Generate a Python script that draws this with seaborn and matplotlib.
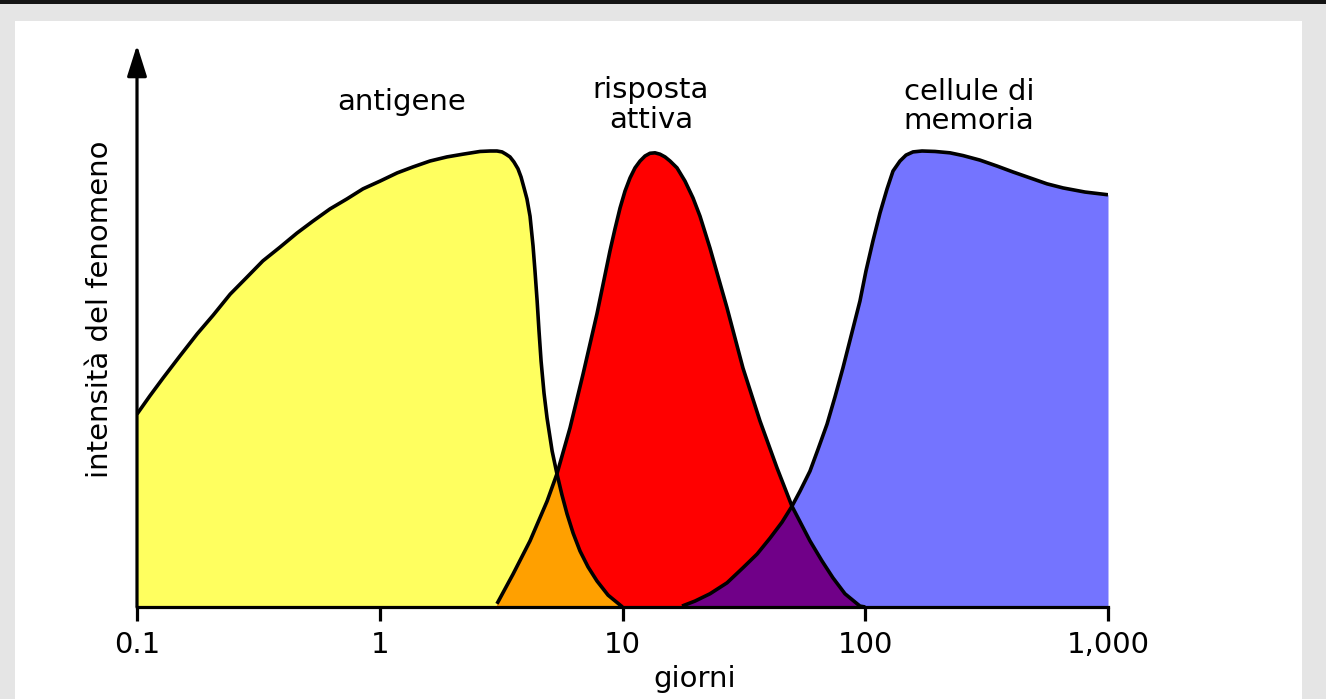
import numpy as np
import pandas as pd
import matplotlib
matplotlib.use("Agg")
import matplotlib.pyplot as plt
from matplotlib.patches import Rectangle
import seaborn as sns

# ---------------- data ----------------
# x in days (log scale), y = relative intensity (0..100)
antigene_x = [0.100, 0.113, 0.128, 0.150, 0.177, 0.206, 0.242, 0.281, 0.330, 0.388,
              0.456, 0.530, 0.624, 0.733, 0.853, 1.003, 1.18, 1.37, 1.61, 1.89,
              2.20, 2.59, 2.85, 3.04, 3.19, 3.31, 3.44, 3.57, 3.71, 3.82,
              3.93, 4.04, 4.16, 4.28, 4.36, 4.45, 4.53, 4.62, 4.75, 4.89,
              5.13, 5.37, 5.63, 5.91, 6.26, 6.68, 7.21, 7.85, 8.72, 10.0]
antigene_y = [42.3, 46.3, 50.2, 55.0, 59.9, 64.0, 68.6, 72.1, 75.9, 78.9,
              82.0, 84.6, 87.3, 89.5, 91.7, 93.4, 95.2, 96.5, 97.8, 98.7,
              99.3, 99.9, 100.0, 100.0, 99.8, 99.3, 98.7, 97.6, 96.1, 94.3,
              91.9, 89.5, 85.7, 79.2, 73.7, 67.1, 60.5, 53.9, 46.9, 41.4,
              34.2, 29.2, 24.6, 20.4, 16.2, 12.3, 8.8, 5.7, 2.6, 0.0]

risposta_x = [3.04, 3.54, 4.16, 4.89, 5.37, 6.08, 6.88, 7.85, 8.88, 9.31,
              9.77, 10.24, 10.74, 11.26, 11.81, 12.38, 12.98, 13.61, 14.27, 14.97,
              15.70, 16.77, 18.09, 19.52, 20.86, 22.93, 26.95, 31.35, 36.84, 43.30,
              49.90, 59.2, 66.34, 73.6, 82.5, 95.1, 100.0]
risposta_y = [0.7, 7.2, 14.5, 23.2, 29.2, 39.3, 51.1, 64.3, 78.1, 82.9,
              87.5, 91.2, 94.1, 96.3, 97.8, 98.9, 99.5, 99.6, 99.3, 98.7,
              97.8, 96.3, 93.4, 89.7, 85.7, 78.7, 65.6, 52.4, 40.8, 30.5,
              22.1, 14.5, 10.1, 6.4, 2.9, 0.2, 0.0]

memoria_x = [17.59, 19.89, 22.93, 26.95, 31.35, 35.83, 40.52, 45.41, 49.90, 53.85,
             59.2, 63.90, 69.6, 75.07, 80.9, 87.39, 95.1, 100.7, 107.6, 115.0,
             123.0, 130.1, 139.0, 147.2, 157.3, 171.3, 193.8, 223.4, 252.7, 296.9,
             349.0, 406.1, 477.4, 560.7, 652.9, 803.9, 1000.0]
memoria_y = [0.2, 1.3, 2.9, 5.3, 8.6, 11.6, 15.1, 18.6, 22.1, 25.4,
             29.8, 34.6, 40.1, 46.1, 52.4, 59.4, 67.1, 73.7, 80.3, 86.4,
             91.7, 95.6, 97.8, 99.1, 99.8, 100.0, 99.9, 99.6, 99.0, 98.0,
             96.7, 95.4, 94.1, 92.8, 91.9, 91.0, 90.4]

tick_values = [0.1, 1, 10, 100, 1000]
tick_labels = ["0.1", "1", "10", "100", "1,000"]
curve_labels = ["antigene", "risposta attiva", "cellule di memoria"]

# ---------------- style ----------------
sns.set_theme(style="white")
plt.rcParams["font.family"] = ["DejaVu Sans"]

W, H = 1326, 699
fig = plt.figure(figsize=(W / 100, H / 100), dpi=100)
fig.patch.set_facecolor("#e5e5e5")
# white panel and dark top rule
fig.patches.append(Rectangle((15 / W, 0), (1302 - 15) / W, (H - 21) / H,
                             transform=fig.transFigure, facecolor="white",
                             edgecolor="none", zorder=-10))
fig.patches.append(Rectangle((0, 1 - 3.5 / H), 1, 3.5 / H,
                             transform=fig.transFigure, facecolor="#151515",
                             edgecolor="none", zorder=-9))

x0, x1, ybase, ytop = 137, 1108, 607, 45
ax = fig.add_axes([x0 / W, (H - ybase) / H, (x1 - x0) / W, (ybase - ytop) / H])
ax.patch.set_alpha(0)
ax.set_xscale("log")
ax.set_xlim(0.1, 1000)
ax.set_ylim(0, (ybase - ytop) / 4.56)

c_yellow = "#ffff5f"
c_red = "#ff0000"
c_blue = "#7474ff"
c_orange = "#ffa000"
c_purple = "#700088"

# base fills
ax.fill_between(antigene_x, antigene_y, color=c_yellow, lw=0, zorder=1)
ax.fill_between(risposta_x, risposta_y, color=c_red, lw=0, zorder=1)
ax.fill_between(memoria_x, memoria_y, color=c_blue, lw=0, zorder=1)

# overlap fills (min of two curves, evaluated in log-x)
def on_grid(xs, ys, grid):
    lg = np.log10(grid)
    lx = np.log10(xs)
    v = np.interp(lg, lx, ys)
    v[(lg < lx[0]) | (lg > lx[-1])] = 0
    return v

g1 = np.geomspace(risposta_x[0], antigene_x[-1], 600)
ov1 = np.minimum(on_grid(antigene_x, antigene_y, g1), on_grid(risposta_x, risposta_y, g1))
ax.fill_between(g1, ov1, color=c_orange, lw=0, zorder=2)

g2 = np.geomspace(memoria_x[0], risposta_x[-1], 600)
ov2 = np.minimum(on_grid(risposta_x, risposta_y, g2), on_grid(memoria_x, memoria_y, g2))
ax.fill_between(g2, ov2, color=c_purple, lw=0, zorder=2)

# outlines via seaborn
df = pd.concat([
    pd.DataFrame({"giorni": antigene_x, "intensita": antigene_y, "curva": curve_labels[0]}),
    pd.DataFrame({"giorni": risposta_x, "intensita": risposta_y, "curva": curve_labels[1]}),
    pd.DataFrame({"giorni": memoria_x, "intensita": memoria_y, "curva": curve_labels[2]}),
])
sns.lineplot(data=df, x="giorni", y="intensita", units="curva", estimator=None,
             color="black", linewidth=2.6, sort=False, legend=False, ax=ax, zorder=4)
for ln in ax.lines:
    ln.set_solid_joinstyle("round")
    ln.set_solid_capstyle("butt")

# axes styling
for s in ["top", "right", "left"]:
    ax.spines[s].set_visible(False)
ax.spines["bottom"].set_linewidth(2.3)
ax.spines["bottom"].set_color("black")
ax.spines["bottom"].set_zorder(5)
ax.set_xticks(tick_values)
ax.set_xticklabels(tick_labels)
ax.xaxis.set_minor_locator(matplotlib.ticker.NullLocator())
ax.tick_params(axis="x", which="major", direction="out", length=10, width=2.3,
               color="black", labelsize=21, labelcolor="black", pad=7, bottom=True)
ax.set_yticks([])
ax.grid(False)

# y axis arrow
ax.annotate("", xy=(0, 1), xycoords="axes fraction", xytext=(0, 0),
            textcoords="axes fraction",
            arrowprops=dict(arrowstyle="-|>,head_length=0.95,head_width=0.3",
                            mutation_scale=20, lw=2.3, color="black",
                            shrinkA=0, shrinkB=0), zorder=6, annotation_clip=False)

# axis labels
ax.set_xlabel("giorni", fontsize=21, color="black")
ax.xaxis.label.set_va("baseline")
ax.xaxis.label.set_ha("center")
ax.xaxis.set_label_coords((695 - x0) / (x1 - x0), (ybase - 687) / (ybase - ytop))
ax.set_ylabel("intensità del fenomeno", fontsize=21, color="black")
ax.yaxis.label.set_va("center")
ax.yaxis.label.set_ha("center")
ax.yaxis.set_label_coords((100 - x0) / (x1 - x0), (ybase - 309) / (ybase - ytop))

# curve annotations
def ftext(px, py, s):
    fig.text(px / W, 1 - py / H, s, ha="center", va="baseline", fontsize=21, color="black")

ftext(402, 110, "antigene")
ftext(651, 98, "risposta")
ftext(651, 128, "attiva")
ftext(969, 100, "cellule di")
ftext(969, 129, "memoria")

fig.savefig("out.png", dpi=100, facecolor=fig.get_facecolor())
